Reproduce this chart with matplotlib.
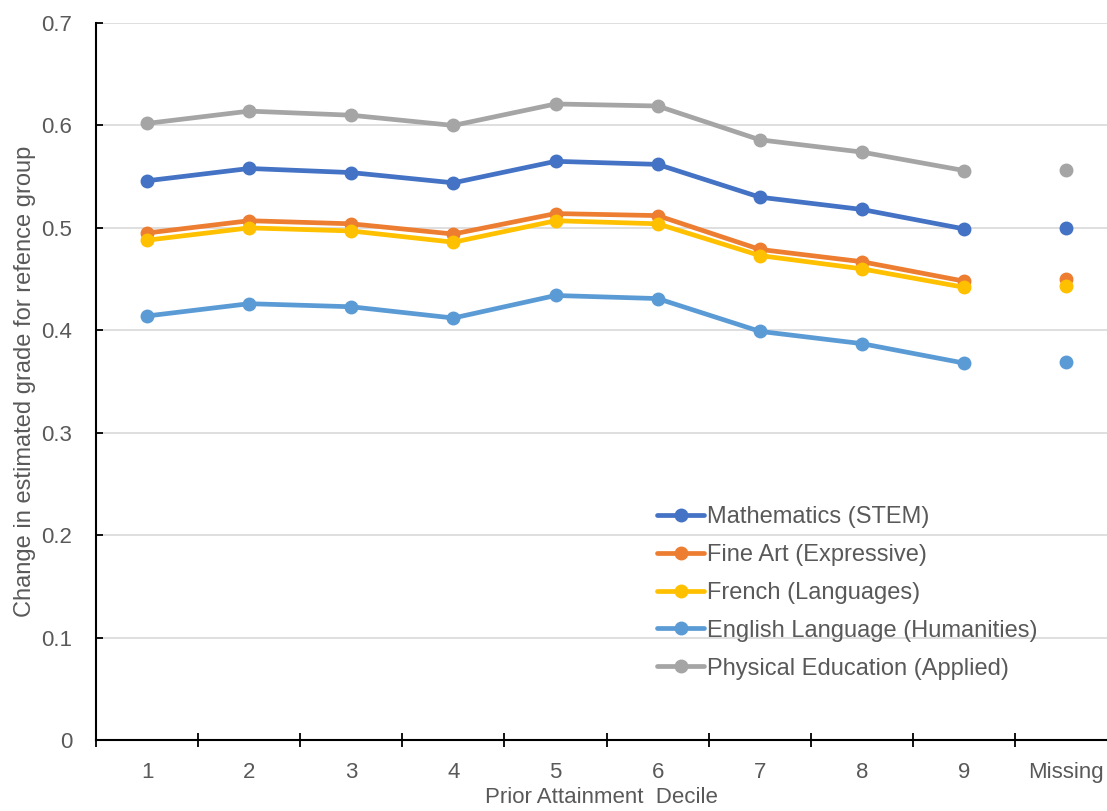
import matplotlib
matplotlib.use("Agg")
import matplotlib.pyplot as plt
import numpy as np

# --- data ---
categories = ['1', '2', '3', '4', '5', '6', '7', '8', '9', 'Missing']
maths = [0.546, 0.558, 0.554, 0.544, 0.565, 0.562, 0.530, 0.518, 0.499, 0.500]
fine_art = [0.495, 0.507, 0.504, 0.494, 0.514, 0.512, 0.479, 0.467, 0.448, 0.450]
french = [0.488, 0.500, 0.497, 0.486, 0.507, 0.504, 0.473, 0.460, 0.442, 0.443]
english = [0.414, 0.426, 0.423, 0.412, 0.434, 0.431, 0.399, 0.387, 0.368, 0.369]
pe = [0.602, 0.614, 0.610, 0.600, 0.621, 0.619, 0.586, 0.574, 0.556, 0.557]

series_names = ['Mathematics (STEM)', 'Fine Art (Expressive)', 'French (Languages)',
                'English Language (Humanities)', 'Physical Education (Applied)']
series_vals = [maths, fine_art, french, english, pe]
colours = ['#4472C4', '#ED7D31', '#FFC000', '#5B9BD5', '#A5A5A5']

plt.rcParams['font.family'] = ['Liberation Sans', 'DejaVu Sans']
grey_txt = '#595959'

fig = plt.figure(figsize=(11.07, 8.11), dpi=100)
ax = fig.add_axes([0.0867, 0.0875, 0.9133, 0.8841])

pos = np.arange(1, len(categories) + 1)
for name, vals, c in zip(series_names, series_vals, colours):
    # deciles joined by a line, the 'Missing' group drawn as a lone point
    ax.plot(pos[:-1], vals[:-1], color=c, lw=3.4, marker='o', ms=9, label=name,
            solid_capstyle='round', solid_joinstyle='round')
    ax.plot(pos[-1:], vals[-1:], color=c, lw=0, marker='o', ms=9)

ax.set_ylim(0, 0.7)
ax.set_xlim(0.5, 10.4)
ax.set_yticks(np.arange(0, 0.71, 0.1))
ax.set_yticklabels(['0'] + ['%.1f' % v for v in np.arange(0.1, 0.71, 0.1)])
ax.yaxis.grid(True, color='#D9D9D9', lw=1.2)
ax.set_axisbelow(True)

ax.set_xticks(np.arange(0.5, 10.0, 1.0))
ax.set_xticklabels([])
ax.set_xticks(pos, minor=True)
ax.set_xticklabels(categories, minor=True, fontsize=16, color=grey_txt)
ax.tick_params(axis='x', which='major', direction='inout', length=10, width=1.3, color='black')
ax.tick_params(axis='x', which='minor', length=0, pad=16)
ax.tick_params(axis='y', direction='in', length=5, width=1.3, labelsize=16,
               labelcolor=grey_txt, pad=17)

for s in ['top', 'right']:
    ax.spines[s].set_visible(False)
ax.spines['left'].set_linewidth(1.5)
ax.spines['bottom'].set_linewidth(1.5)

ax.set_ylabel('Change in estimated grade for refence group', fontsize=17,
              color=grey_txt, labelpad=4)
ax.set_xlabel('Prior Attainment  Decile', fontsize=16, color=grey_txt, labelpad=3)

leg = ax.legend(loc='upper left', bbox_to_anchor=(0.555, 0.326), frameon=False,
                fontsize=17, labelcolor=grey_txt, handlelength=2.0, handletextpad=0.13,
                labelspacing=0.67, borderaxespad=0, borderpad=0)

plt.savefig('out.png', dpi=100)
